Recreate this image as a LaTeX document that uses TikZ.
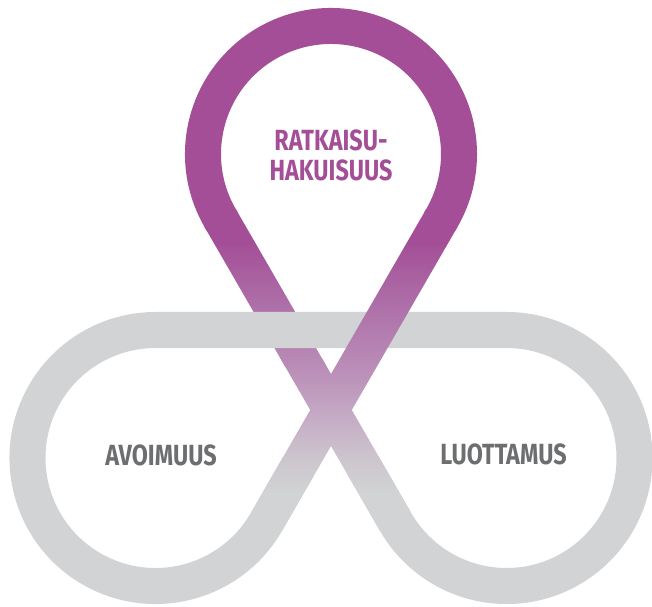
\documentclass[tikz,border=0pt]{standalone}
\usepackage{fontspec}
\setmainfont{Fira Sans}
\usepackage{graphicx}
\usetikzlibrary{calc}

\definecolor{knotpurple}{RGB}{163,78,151}
\definecolor{knotgray}{RGB}{209,211,212}
\definecolor{fadeA}{RGB}{175,115,170}
\definecolor{fadeB}{RGB}{186,142,184}
\definecolor{fadeC}{RGB}{197,170,197}
\definecolor{fadeD}{RGB}{205,198,206}
\definecolor{wordgray}{RGB}{109,110,112}

\pgfdeclareverticalshading{ribbonfade}{100bp}{color(0bp)=(knotgray); color(31bp)=(knotgray); color(36bp)=(fadeD); color(43bp)=(fadeC); color(50bp)=(fadeB); color(59bp)=(fadeA); color(70bp)=(knotpurple); color(100bp)=(knotpurple)}

\newcommand{\narrow}[1]{\scalebox{0.8}[1]{#1}}

\tikzset{
  band/.style={line width=0.36cm},
  loopname/.style={font=\fontsize{8.3}{8.6}\selectfont\bfseries, inner sep=0pt},
}

\begin{document}
\begin{tikzpicture}[x=0.01cm,y=0.01cm]
  \useasboundingbox (0,0) rectangle (652,606);
  \coordinate (C) at (331,196);
  \coordinate (T) at (331,452);
  \coordinate (L) at (155.5,148);
  \coordinate (R) at (506.5,148);
  \coordinate (PA) at ($(T)+(210:128)$);
  \coordinate (PB) at ($(T)+(-30:128)$);
  \coordinate (QA) at ($(R)+(210:128)$);
  \coordinate (QB) at ($(L)+(-30:128)$);

  \begin{scope}
  \clip (0,240) rectangle (652,606);
  \shade[shading=ribbonfade] ($(PA)+(30:18)$) -- ($(QA)+(30:18)$) -- ($(QA)+(210:18)$) -- ($(PA)+(210:18)$) -- cycle;
  \end{scope}

  \draw[band,knotgray] ($(C)!0.5!(QB)$) -- (QB) arc[start angle=-30,end angle=-270,radius=128]
    -- ($(R)+(90:128)$) arc[start angle=90,end angle=-150,radius=128] -- ($(C)!0.5!(QA)$);

  \shade[shading=ribbonfade] ($(PB)+(150:18)$) -- ($(QB)+(150:18)$) -- ($(QB)+(-30:18)$) -- ($(PB)+(-30:18)$) -- cycle;

  \begin{scope}
  \clip (0,0) rectangle (652,248);
  \shade[shading=ribbonfade] ($(PA)+(30:18)$) -- ($(QA)+(30:18)$) -- ($(QA)+(210:18)$) -- ($(PA)+(210:18)$) -- cycle;
  \end{scope}

  \draw[band,knotpurple] ($(T)+(212:128)$) arc[start angle=212,end angle=-32,radius=128];

  \node[loopname,knotpurple,align=center] (solve) at (331,450.5) {\narrow{RATKAISU-}\\\narrow{HAKUISUUS}};
  \node[loopname,wordgray] (open) at (161,151) {\narrow{AVOIMUUS}};
  \node[loopname,wordgray] (trust) at (503.5,152) {\narrow{LUOTTAMUS}};
\end{tikzpicture}
\end{document}
